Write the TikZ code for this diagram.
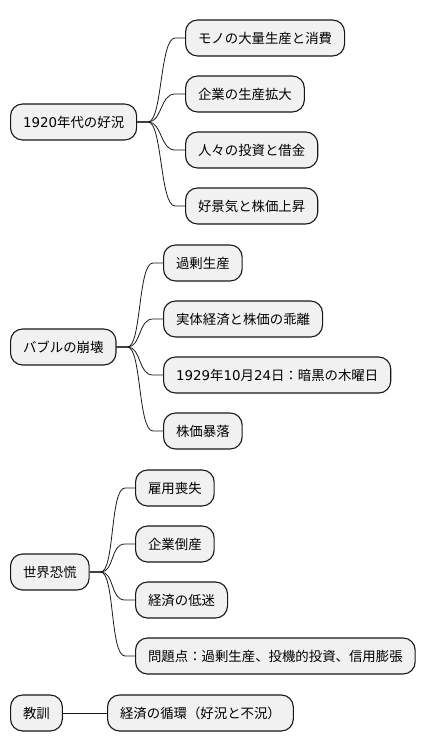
\documentclass[tikz,border=0pt]{standalone}
\usepackage{fontspec}
\setmainfont{Noto Sans CJK JP}
\newfontfamily\dv{DejaVu Sans}
\definecolor{boxfill}{HTML}{F1F1F1}
\definecolor{boxline}{HTML}{181818}
\begin{document}
\begin{tikzpicture}[x=1pt,y=-1pt,
 topic/.style={draw=boxline,fill=boxfill,line width=1.1pt,rounded corners=12pt,anchor=west,
  minimum height=36pt,inner xsep=12.5pt,font=\fontsize{13.4}{16}\selectfont},
 link/.style={draw=boxline,line width=.8pt}]
 \useasboundingbox (0,0) rectangle (432,752);
 \node[topic] (boom) at (10,122) {{\dv 1920}年代の好況};
 \node[topic] (boom1) at (185,38) {モノの大量生産と消費};
 \node[topic] (boom2) at (185,94) {企業の生産拡大};
 \node[topic] (boom3) at (185,150) {人々の投資と借金};
 \node[topic] (boom4) at (185,206) {好景気と株価上昇};
 \node[topic] (bubble) at (10,347) {バブルの崩壊};
 \node[topic] (bubble1) at (163,263) {過剰生産};
 \node[topic] (bubble2) at (163,319) {実体経済と株価の乖離};
 \node[topic] (bubble3) at (163,375) {{\dv 1929}年{\dv 10}月{\dv 24}日：暗黒の木曜日};
 \node[topic] (bubble4) at (163,431) {株価暴落};
 \node[topic] (crisis) at (10,572) {世界恐慌};
 \node[topic] (crisis1) at (135,488) {雇用喪失};
 \node[topic] (crisis2) at (135,544) {企業倒産};
 \node[topic] (crisis3) at (135,600) {経済の低迷};
 \node[topic] (crisis4) at (135,656) {問題点：過剰生産、投機的投資、信用膨張};
 \node[topic] (lesson) at (10,713) {教訓};
 \node[topic] (lesson1) at (107,713) {経済の循環（好況と不況）};
 \foreach \r in {boom,bubble,crisis}
  \foreach \i in {1,...,4}
   \draw[link] (\r.east) -- ++(11,0) .. controls +(14,0) and ([xshift=-25pt]\r\i.west)
    .. ([xshift=-10pt]\r\i.west) -- (\r\i.west);
 \draw[link] (lesson) -- (lesson1);
\end{tikzpicture}
\end{document}
